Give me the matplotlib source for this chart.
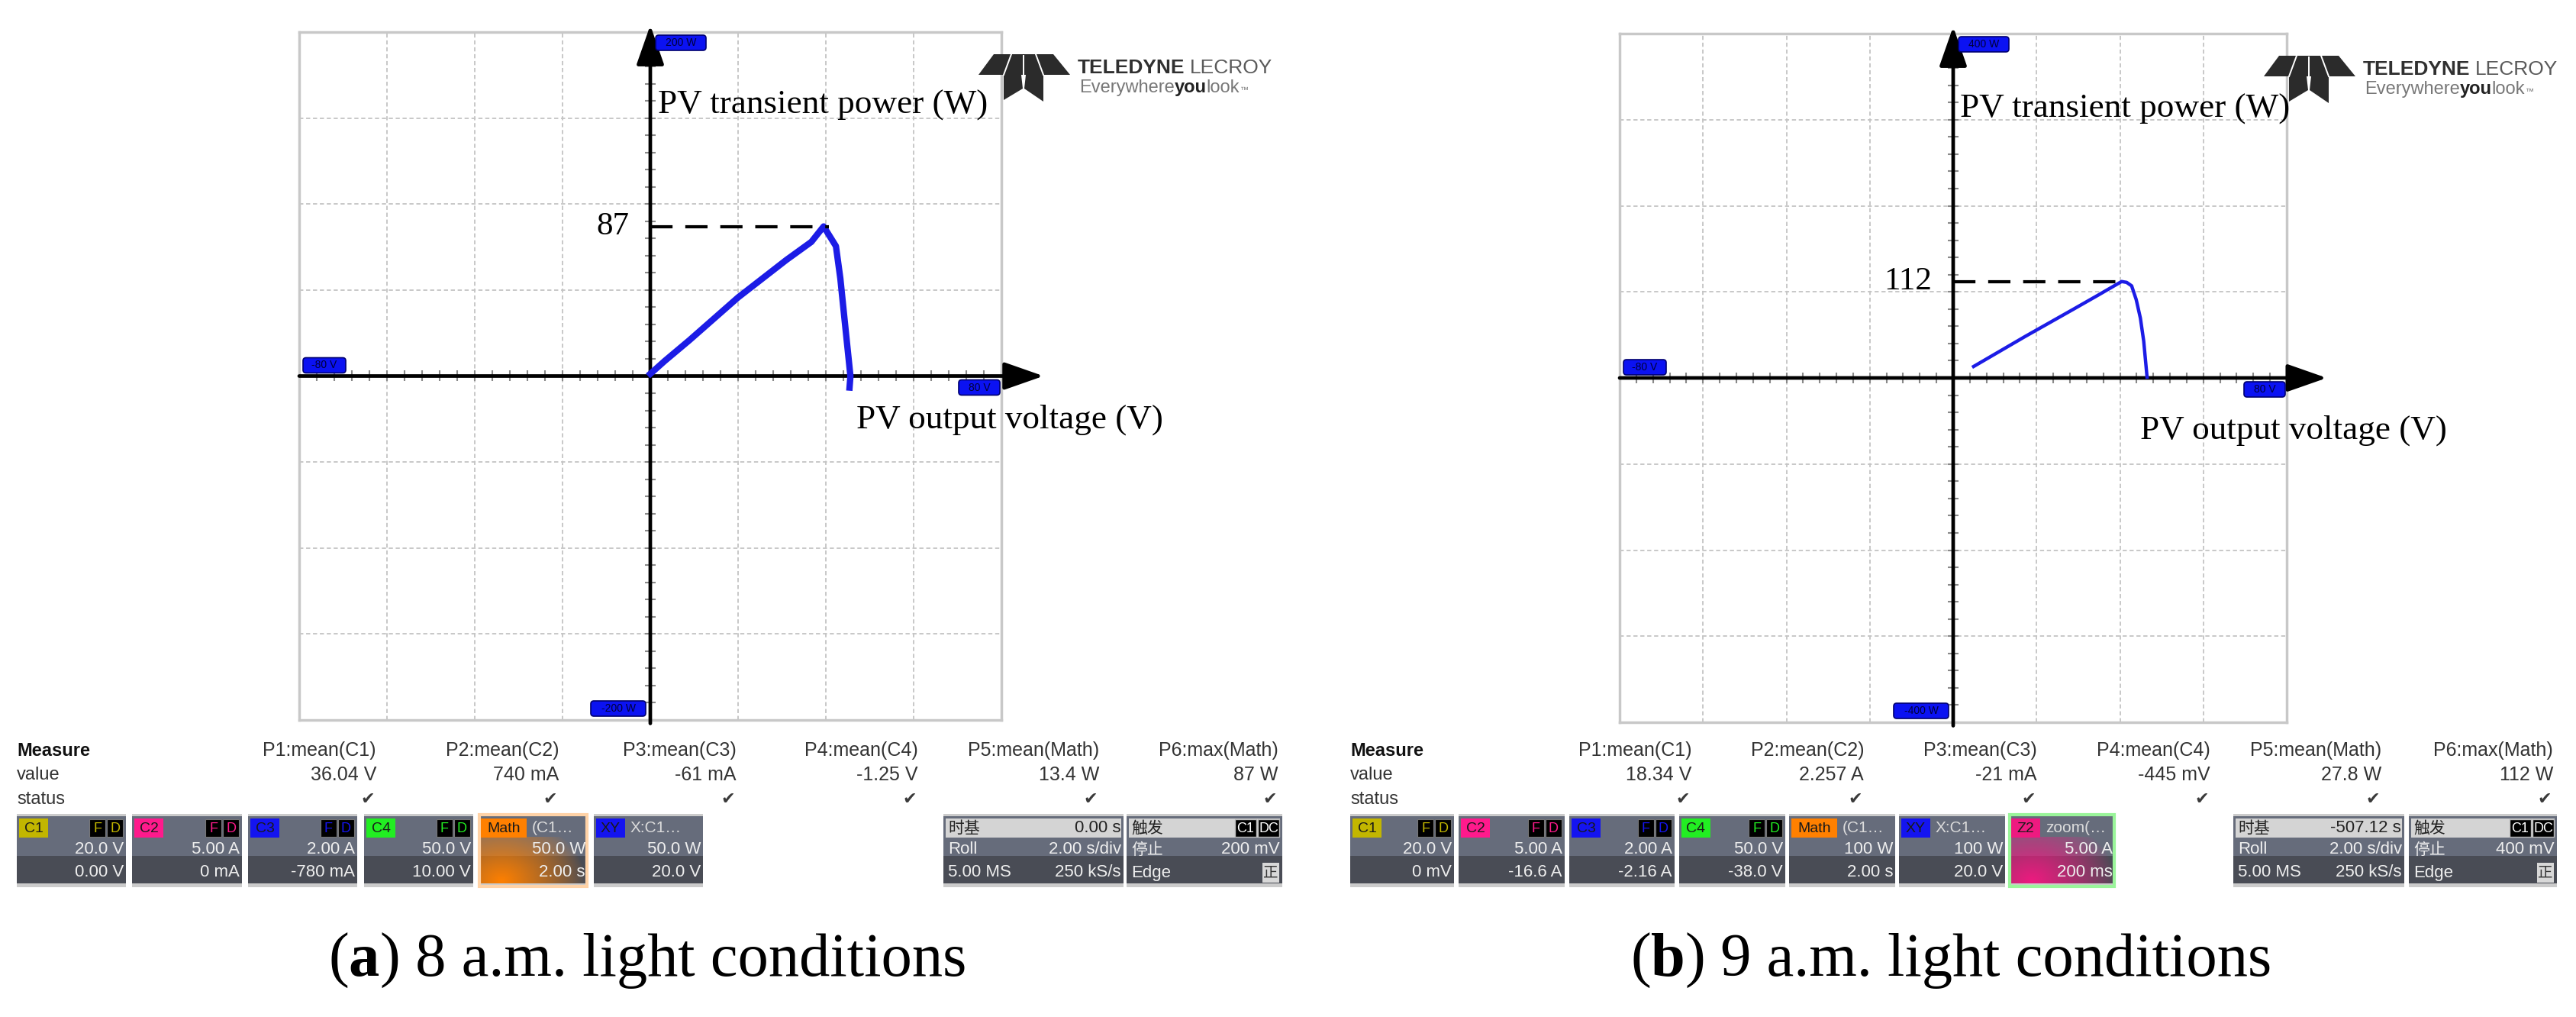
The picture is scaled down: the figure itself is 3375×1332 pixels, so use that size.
import numpy as np
import matplotlib.pyplot as plt
from matplotlib.patches import Rectangle, FancyBboxPatch, Polygon

W, H = 3375, 1332

# ---- values read off the two scope screens ----
# (a) 8 a.m.: x 20 V/div, y 50 W/div
volt_8am = [0, 3.3, 8.9, 20.0, 31.0, 36.7, 39.5, 42.3, 43.3, 44.5, 45.6, 45.4]
power_8am = [1.3, 8.8, 20.8, 45.7, 67.5, 78.0, 87.0, 75.5, 56.8, 27.0, 0.0, -6.7]
# (b) 9 a.m.: x 20 V/div, y 100 W/div
volt_9am = [4.9, 17.2, 28.9, 34.7, 40.4, 41.6, 42.8, 43.9, 44.9, 45.7, 46.5]
power_9am = [13.3, 48.0, 80.0, 96.0, 112.0, 111.0, 107.0, 91.0, 69.5, 42.7, 1.0]

screen_8am = ['200 W', '-80 V', '80 V', '-200 W']
screen_9am = ['400 W', '-80 V', '80 V', '-400 W']

meas_names = ['P1:mean(C1)', 'P2:mean(C2)', 'P3:mean(C3)', 'P4:mean(C4)',
              'P5:mean(Math)', 'P6:max(Math)']
meas_8am = ['36.04 V', '740 mA', '-61 mA', '-1.25 V', '13.4 W', '87 W']
meas_9am = ['18.34 V', '2.257 A', '-21 mA', '-445 mV', '27.8 W', '112 W']

chan_tags = ['C1', 'C2', 'C3', 'C4', 'Math', 'XY', 'Z2']
chan_colors = ['#c2b600', '#ff1a8c', '#1414f0', '#22ee22', '#ff8000', '#1414f0', '#ee1a80']
chan_heads = ['', '', '', '', '(C1…', 'X:C1…', 'zoom(…']
scale_8am = ['20.0 V', '5.00 A', '2.00 A', '50.0 V', '50.0 W', '50.0 W']
offset_8am = ['0.00 V', '0 mA', '-780 mA', '10.00 V', '2.00 s', '20.0 V']
scale_9am = ['20.0 V', '5.00 A', '2.00 A', '50.0 V', '100 W', '100 W', '5.00 A']
offset_9am = ['0 mV', '-16.6 A', '-2.16 A', '-38.0 V', '2.00 s', '20.0 V', '200 ms']

timebase_8am = ['0.00 s', '2.00 s/div', '5.00 MS', '250 kS/s']
timebase_9am = ['-507.12 s', '2.00 s/div', '5.00 MS', '250 kS/s']
trigger_8am = '200 mV'
trigger_9am = '400 mV'

captions = [('a', ' 8 a.m. light conditions'), ('b', ' 9 a.m. light conditions')]

SANS = 'Liberation Sans'
SERIF = 'Liberation Serif'
CJK = ['Noto Sans CJK SC', 'DejaVu Sans']

fig = plt.figure(figsize=(W / 100, H / 100), dpi=100)
ov = fig.add_axes([0, 0, 1, 1], zorder=10)
ov.axis('off')
ov.set_xlim(0, W)
ov.set_ylim(H, 0)
renderer = fig.canvas.get_renderer()


def chain(x, y, parts, **common):
    # parts: (text, extra kwargs, gap after in px)
    for s, kw, gap in parts:
        opts = dict(common)
        opts.update(kw)
        t = ov.text(x, y, s, ha='left', va='baseline', **opts)
        x += t.get_window_extent(renderer).width + gap
    return x


def label_box(cx, cy, w, s):
    ov.add_patch(FancyBboxPatch((cx - w / 2 + 4, cy - 6), w - 8, 12,
                                boxstyle='round,pad=4', fc='#0b12f2', ec='#000070', lw=1.2))
    ov.text(cx, cy, s, ha='center', va='center', fontsize=10, color='#00003a', family=SANS)


def logo(lx, ly):
    pieces = [[(0, 27), (20, 0), (98, 0), (120, 27)],
              [(33, 27), (56, 27), (58, 45), (33, 60)],
              [(62, 27), (85, 27), (85, 62), (60, 45)]]
    for p in pieces:
        ov.add_patch(Polygon([(lx + a, ly + b) for a, b in p], closed=True, fc='#2b2b2b', ec='none'))
    for a, b in [((43, 0), (33, 27)), ((75, 0), (85, 27)), ((59, 2), (59, 50))]:
        ov.plot([lx + a[0], lx + b[0]], [ly + a[1], ly + b[1]], color='white', lw=1.4)
    tx = lx + 130
    chain(tx, ly + 25, [('TELEDYNE', dict(fontweight='bold', color='#303030'), 6),
                        ('LECROY', dict(color='#5a5a5a'), 0)],
          fontsize=19, family=SANS)
    chain(tx + 2, ly + 50, [('Everywhere', dict(color='#777777'), 0),
                            ('you', dict(color='#222222', fontweight='bold'), 0),
                            ('look', dict(color='#777777'), 1),
                            ('™', dict(color='#777777', fontsize=8), 0)],
          fontsize=17, family=SANS)


def draw_panel(frame, vmax, pmax, volts, powers, curve_lw, marks, ylab_pos, xlab_pos):
    x0, y0, x1, y1 = frame
    ax = fig.add_axes([x0 / W, 1 - y1 / H, (x1 - x0) / W, (y1 - y0) / H])
    ax.set_xlim(-vmax, vmax)
    ax.set_ylim(-pmax, pmax)
    ax.set_facecolor('none')
    ax.set_xticks(np.linspace(-vmax, vmax, 9))
    ax.set_yticks(np.linspace(-pmax, pmax, 9))
    ax.tick_params(length=0, labelbottom=False, labelleft=False)
    ax.grid(True, color='#c4c4c4', lw=1.3, ls=(0, (3, 2)))
    for s in ax.spines.values():
        s.set_color('#c8c8c8')
        s.set_linewidth(2.5)
    mv = np.linspace(-vmax, vmax, 41)
    mp = np.linspace(-pmax, pmax, 41)
    ax.plot(mv, np.zeros_like(mv), ls='none', marker='|', ms=10, mew=1.5, color='#8a8a8a')
    ax.plot(np.zeros_like(mp), mp, ls='none', marker='_', ms=10, mew=1.5, color='#8a8a8a')
    arrow = dict(arrowstyle='-|>,head_length=0.8,head_width=0.28', mutation_scale=40,
                 lw=3.4, color='black', shrinkA=0, shrinkB=0)
    ax.annotate('', xy=(vmax * 1.12, 0), xytext=(-vmax, 0), arrowprops=arrow, annotation_clip=False)
    ax.annotate('', xy=(0, pmax * 1.02), xytext=(0, -pmax * 1.01), arrowprops=arrow, annotation_clip=False)

    ax.plot(volts, powers, color='#1c1ce6', lw=curve_lw, solid_joinstyle='round', clip_on=False, zorder=4)
    k = int(np.argmax(powers))
    peak = powers[k]
    ax.plot([0, volts[k] + 1.2], [peak, peak], color='black', lw=3, dashes=(7, 4), zorder=5)
    ax.annotate(f'{peak:g}', xy=(0, peak), xytext=(-20, 0), textcoords='offset points',
                ha='right', va='center', fontsize=31, family=SERIF)

    cx = x0 + (x1 - x0) / 2
    cy = y0 + (y1 - y0) / 2
    label_box(cx + 40, y0 + 14, 66, marks[0])
    label_box(x0 + 33, cy - 14, 56, marks[1])
    label_box(x1 - 29, cy + 15, 54, marks[2])
    label_box(cx - 42, y1 - 15, 72, marks[3])

    ov.text(ylab_pos[0], ylab_pos[1], 'PV transient power (W)', ha='left', va='baseline',
            fontsize=32.5, family=SERIF)
    ov.text(xlab_pos[0], xlab_pos[1], 'PV output voltage (V)', ha='left', va='baseline',
            fontsize=32.5, family=SERIF)
    logo(x1 - 30, y0 + 29)


def glow(x0, x1, ya, yb, color, cxy, r):
    xs = np.arange(x0, x1) + 0.5
    ys = np.arange(ya, yb) + 0.5
    gx, gy = np.meshgrid(xs, ys)
    d = np.hypot(gx - cxy[0], (gy - cxy[1]) * 1.3)
    img = np.zeros(gx.shape + (4,))
    rgb = plt.matplotlib.colors.to_rgb(color)
    img[..., :3] = rgb
    img[..., 3] = np.clip(1 - d / r, 0, 1) ** 0.8
    ov.imshow(img, extent=(x0, x1, yb, ya), origin='upper', aspect='auto', zorder=2)


BY0, BY1 = 1066, 1162


def box_body(x0, x1):
    ov.add_patch(Rectangle((x0, BY0), x1 - x0, BY1 - BY0, fc='#cbcbcb', ec='none', zorder=1))
    ov.add_patch(Rectangle((x0, BY0 + 3), x1 - x0, 52, fc='#666c7b', ec='none', zorder=1))
    ov.add_patch(Rectangle((x0, BY0 + 55), x1 - x0, 36, fc='#494c55', ec='none', zorder=1))


def chan_box(x0, x1, i, top, bot, accent=None):
    box_body(x0, x1)
    tag, col, head = chan_tags[i], chan_colors[i], chan_heads[i]
    if accent:
        glow(x0, x1, BY0 + 30, BY1 - 5, col, (x0 + 30, BY1 - 8), 110)
        ov.add_patch(Rectangle((x0 + 1, BY0 + 1), x1 - x0 - 2, BY1 - BY0 - 2, fc='none',
                               ec=accent, lw=3, zorder=3))
    tw = 60 if len(tag) > 2 else 38
    ov.add_patch(Rectangle((x0 + 3, BY0 + 6), tw, 25, fc=col, ec='none', zorder=3))
    ov.text(x0 + 3 + tw / 2, BY0 + 19, tag, ha='center', va='center', fontsize=14,
            color='#1a1a1a', family=SANS, zorder=4)
    if head:
        ov.text(x0 + tw + 10, BY0 + 19, head, ha='left', va='center', fontsize=15,
                color='#dcdcdc', family=SANS, zorder=4)
    else:
        for j, ch in enumerate('FD'):
            bx = x1 - 48 + j * 23
            ov.add_patch(Rectangle((bx, BY0 + 7), 21, 23, fc='black', ec='#777777', lw=0.8, zorder=3))
            ov.text(bx + 10.5, BY0 + 19, ch, ha='center', va='center', fontsize=13,
                    color=col, family=SANS, zorder=4)
    ov.text(x1 - 3, BY0 + 47, top, ha='right', va='center', fontsize=16, color='#eeeeee',
            family=SANS, zorder=4)
    ov.text(x1 - 3, BY0 + 77, bot, ha='right', va='center', fontsize=16, color='#eeeeee',
            family=SANS, zorder=4)


def timebase_box(x0, x1, vals):
    box_body(x0, x1)
    ov.add_patch(Rectangle((x0 + 3, BY0 + 6), x1 - x0 - 6, 25, fc='#d4d4d4', ec='none', zorder=2))
    ov.text(x0 + 6, BY0 + 19, '时基', ha='left', va='center', fontsize=15, color='#222222',
            family=CJK, zorder=4)
    ov.text(x1 - 4, BY0 + 19, vals[0], ha='right', va='center', fontsize=16, color='#222222',
            family=SANS, zorder=4)
    ov.text(x0 + 6, BY0 + 47, 'Roll', ha='left', va='center', fontsize=16, color='#eeeeee',
            family=SANS, zorder=4)
    ov.text(x1 - 3, BY0 + 47, vals[1], ha='right', va='center', fontsize=16, color='#eeeeee',
            family=SANS, zorder=4)
    ov.text(x0 + 6, BY0 + 77, vals[2], ha='left', va='center', fontsize=16, color='#eeeeee',
            family=SANS, zorder=4)
    ov.text(x1 - 3, BY0 + 77, vals[3], ha='right', va='center', fontsize=16, color='#eeeeee',
            family=SANS, zorder=4)


def trigger_box(x0, x1, level):
    box_body(x0, x1)
    ov.add_patch(Rectangle((x0 + 3, BY0 + 6), x1 - x0 - 6, 25, fc='#d4d4d4', ec='none', zorder=2))
    ov.text(x0 + 6, BY0 + 19, '触发', ha='left', va='center', fontsize=15, color='#222222',
            family=CJK, zorder=4)
    for j, s in enumerate(['C1', 'DC']):
        bx = x1 - 62 + j * 30
        ov.add_patch(Rectangle((bx, BY0 + 7), 28, 23, fc='black', ec='#bbbbbb', lw=1, zorder=3))
        ov.text(bx + 14, BY0 + 19, s, ha='center', va='center', fontsize=13, color='white',
                family=SANS, zorder=4)
    ov.text(x0 + 6, BY0 + 47, '停止', ha='left', va='center', fontsize=15, color='#eeeeee',
            family=CJK, zorder=4)
    ov.text(x1 - 3, BY0 + 47, level, ha='right', va='center', fontsize=16, color='#eeeeee',
            family=SANS, zorder=4)
    ov.text(x0 + 6, BY0 + 77, 'Edge', ha='left', va='center', fontsize=16, color='#eeeeee',
            family=SANS, zorder=4)
    ov.add_patch(Rectangle((x1 - 26, BY0 + 64), 22, 26, fc='#d8d8d8', ec='none', zorder=3))
    ov.text(x1 - 15, BY0 + 77, '正', ha='center', va='center', fontsize=14, color='#333333',
            family=CJK, zorder=4)


def measure_table(xl, col_right, values):
    ov.text(xl, 983, 'Measure', ha='left', va='center', fontsize=17, fontweight='bold',
            color='#111111', family=SANS)
    ov.text(xl, 1015, 'value', ha='left', va='center', fontsize=17, color='#333333', family=SANS)
    ov.text(xl, 1047, 'status', ha='left', va='center', fontsize=17, color='#333333', family=SANS)
    for xr, name, val in zip(col_right, meas_names, values):
        ov.text(xr, 983, name, ha='right', va='center', fontsize=18, color='#333333', family=SANS)
        ov.text(xr, 1015, val, ha='right', va='center', fontsize=18, color='#333333', family=SANS)
        ov.text(xr - 2, 1047, '✔', ha='right', va='center', fontsize=16, color='#3a3a3a',
                family='DejaVu Sans')


# ---- (a) 8 a.m. ----
draw_panel((392, 42, 1312, 943), 80, 200, volt_8am, power_8am, 6,
           screen_8am, (862, 149), (1122, 561))
measure_table(22, [493, 732, 965, 1203, 1440, 1675], meas_8am)
for i, (bx0, bx1) in enumerate([(22, 165), (173, 317), (325, 468), (477, 620), (627, 770), (778, 921)]):
    chan_box(bx0, bx1, i, scale_8am[i], offset_8am[i], accent='#ffd2a6' if i == 4 else None)
timebase_box(1236, 1472, timebase_8am)
trigger_box(1476, 1680, trigger_8am)

# ---- (b) 9 a.m. ----
draw_panel((2122, 44, 2996, 946), 80, 400, volt_9am, power_9am, 3.2,
           screen_9am, (2568, 154), (2804, 575))
measure_table(1769, [2216, 2442, 2669, 2896, 3120, 3345], meas_9am)
boxes_9am = [(1769, 1905), (1911, 2050), (2056, 2194), (2200, 2339), (2344, 2483), (2488, 2627), (2632, 2771)]
for i, (bx0, bx1) in enumerate(boxes_9am):
    chan_box(bx0, bx1, i, scale_9am[i], offset_9am[i], accent='#9af59a' if i == 6 else None)
timebase_box(2926, 3150, timebase_9am)
trigger_box(3156, 3350, trigger_9am)

# ---- captions ----
for x, (letter, rest) in zip([430, 2136], captions):
    chain(x, 1278, [('(', {}, 0), (letter, dict(fontweight='bold'), 0), (')', {}, 0),
                    (rest, {}, 0)], fontsize=58, family=SERIF)

ov.set_xlim(0, W)
ov.set_ylim(H, 0)
fig.savefig('out.png', dpi=100)
